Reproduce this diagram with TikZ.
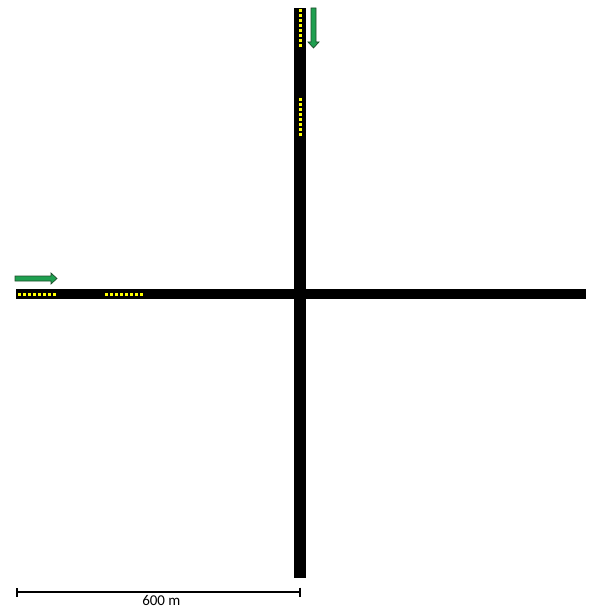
\documentclass[tikz,border=0pt]{standalone}
\usepackage{fontspec}
\setmainfont{Carlito}
\usetikzlibrary{arrows.meta, positioning, calc}
\definecolor{roadblack}{HTML}{000000}
\definecolor{cargold}{HTML}{FFFF00}
\definecolor{flowgreen}{HTML}{1FA050}
\definecolor{flowdark}{HTML}{1E4D2B}

\begin{document}
\begin{tikzpicture}[
        x=1pt, y=-1pt,
        road/.style={fill=roadblack, draw=none},
        car/.style={fill=cargold, draw=none},
        flow/.style={fill=flowgreen, draw=flowdark, line width=0.7pt, line join=miter},
        scalebar/.style={{Bar[width=9pt, line width=1.6pt]}-{Bar[width=9pt, line width=1.6pt]}, line width=1.8pt}
    ]
    \useasboundingbox (0,0) rectangle (590,612);

    % roads
    \fill[road] (294,8) rectangle (306,578);
    \fill[road] (16,289) rectangle (586,299);

    % queued vehicles
    \foreach \k in {0,...,7} {
        \fill[car] ($(300,11)+(0,5*\k)$) +(-1.5,-1.5) rectangle +(1.5,1.5);
        \fill[car] ($(300,100)+(0,5*\k)$) +(-1.5,-1.5) rectangle +(1.5,1.5);
        \fill[car] ($(19,294)+(5*\k,0)$) +(-1.5,-1.5) rectangle +(1.5,1.5);
        \fill[car] ($(106,294)+(5*\k,0)$) +(-1.5,-1.5) rectangle +(1.5,1.5);
    }

    % traffic directions
    \draw[flow] (15,276) -- (51,276) -- (51,273) -- (57,278.5) -- (51,284) -- (51,281) -- (15,281) -- cycle;
    \draw[flow] (311,8) -- (311,42) -- (308,42) -- (313.5,48) -- (319,42) -- (316,42) -- (316,8) -- cycle;

    % scale
    \coordinate (s0) at (16,592);
    \coordinate (s1) at (301,592);
    \draw[scalebar] (s0) -- (s1);
    \node[font=\fontsize{15}{17}\selectfont, below=0pt of $(s0)!0.51!(s1)$] (scale) {600 m};
\end{tikzpicture}
\end{document}
